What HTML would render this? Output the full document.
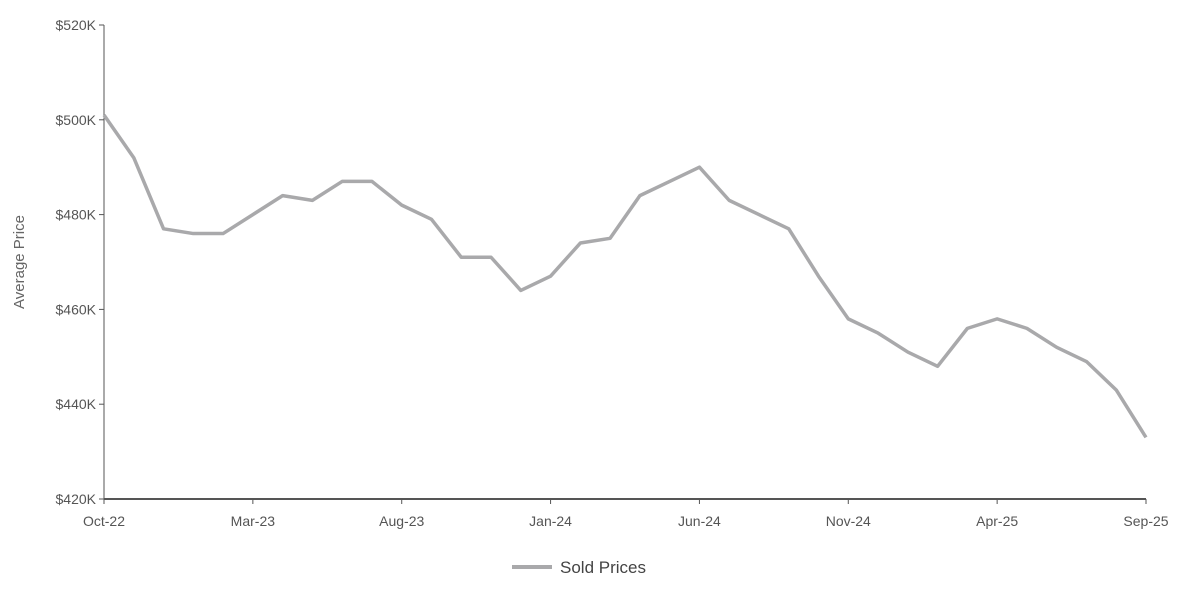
<!DOCTYPE html>
<html><head><meta charset="utf-8"><style>
body{margin:0;background:#fff;width:1196px;height:593px;overflow:hidden;font-family:"Liberation Sans",sans-serif}
text{font-family:"Liberation Sans",sans-serif}
</style></head><body>
<svg id="chart" width="1196" height="593"></svg>
<script>
const months=["Oct-22","Nov-22","Dec-22","Jan-23","Feb-23","Mar-23","Apr-23","May-23","Jun-23","Jul-23","Aug-23","Sep-23","Oct-23","Nov-23","Dec-23","Jan-24","Feb-24","Mar-24","Apr-24","May-24","Jun-24","Jul-24","Aug-24","Sep-24","Oct-24","Nov-24","Dec-24","Jan-25","Feb-25","Mar-25","Apr-25","May-25","Jun-25","Jul-25","Aug-25","Sep-25"];
const soldPrices=[501,492,477,476,476,480,484,483,487,487,482,479,471,471,464,467,474,475,484,487,490,483,480,477,467,458,455,451,448,456,458,456,452,449,443,433];
const yTicks=[420,440,460,480,500,520];
const xTickLabels=["Oct-22","Mar-23","Aug-23","Jan-24","Jun-24","Nov-24","Apr-25","Sep-25"];
const NS="http://www.w3.org/2000/svg";
const svg=document.getElementById('chart');
const X0=104,X1=1146,Y0=499,Y1=25;
const x=i=>X0+(X1-X0)*i/(months.length-1);
const y=v=>Y0-(v-420)/(520-420)*(Y0-Y1);
function el(t,a,p){const e=document.createElementNS(NS,t);for(const k in a)e.setAttribute(k,a[k]);(p||svg).appendChild(e);return e;}
const yAxis=el('line',{x1:X0,y1:Y1,x2:X0,y2:Y0,stroke:'#555','stroke-width':1});


const xAxis=el('line',{x1:X0,y1:Y0,x2:X1,y2:Y0,stroke:'#555','stroke-width':2});


yTicks.forEach(v=>{
  el('line',{x1:X0-5,y1:y(v),x2:X0,y2:y(v),stroke:'#555'});
  const t=el('text',{x:X0-8,y:y(v)+5,'text-anchor':'end','font-size':14,fill:'#555'});
  t.textContent='$'+v+'K';
  
  
});
xTickLabels.forEach(lbl=>{
  const i=months.indexOf(lbl);
  el('line',{x1:x(i),y1:Y0,x2:x(i),y2:Y0+5,stroke:'#555'});
  const t=el('text',{x:x(i),y:Y0+27,'text-anchor':'middle','font-size':14,fill:'#555'});
  t.textContent=lbl;
  
  
});
const yt=el('text',{x:0,y:0,transform:'translate(24,262) rotate(-90)','text-anchor':'middle','font-size':15,fill:'#666'});
yt.textContent='Average Price';


const line=el('polyline',{points:soldPrices.map((v,i)=>x(i)+','+y(v)).join(' '),fill:'none',stroke:'#a9a9ab','stroke-width':3.5,'stroke-linejoin':'round'});


const lg=el('g',{});


el('line',{x1:512,y1:567,x2:552,y2:567,stroke:'#a9a9ab','stroke-width':4},lg);
const lt=el('text',{x:560,y:573,'font-size':17,fill:'#444'},lg);
lt.textContent='Sold Prices';
</script>
</body></html>
